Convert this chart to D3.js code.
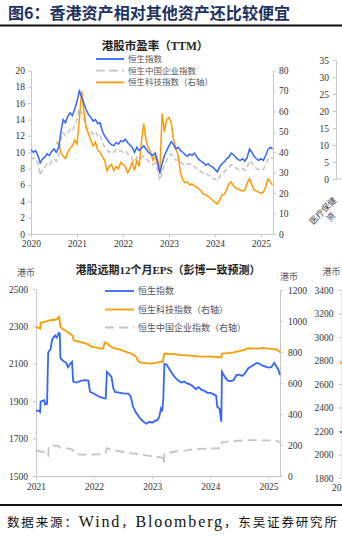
<!DOCTYPE html>
<html><head><meta charset="utf-8">
<script src="https://cdn.jsdelivr.net/npm/d3@7"></script>
<style>body{margin:0;background:#fff}svg{display:block}</style>
</head><body>
<svg id="c" width="342" height="540"></svg>
<script>
// ---------- DATA ----------
// Top chart: PE (TTM), sampled every 0.05 year from 2020.00
const peStart = 2020, peStep = 0.05;
const peHSI = [
 10.3,10.0,10.2,9.6,8.7,9.2,9.4,9.8,9.6,10.1,10.4,10.0,10.6,12.5,14.0,13.6,14.4,14.8,14.5,15.3,
 16.2,17.5,16.8,16.0,15.2,14.6,14.3,13.8,14.0,13.5,13.6,12.6,12.0,11.6,11.2,10.9,10.8,11.2,11.0,11.4,
 11.3,11.6,11.2,10.9,10.6,10.0,10.6,10.2,10.5,10.8,10.4,10.0,9.8,9.6,9.9,9.0,7.4,8.6,9.6,10.2,
 10.8,11.3,10.9,10.4,10.6,10.2,10.0,9.7,9.5,9.8,9.6,9.9,9.5,9.1,8.9,8.7,8.4,8.6,8.3,8.2,
 7.9,7.6,8.2,8.6,8.8,9.2,9.4,9.9,9.7,9.4,9.1,9.0,9.2,8.9,9.4,10.4,10.0,9.5,9.2,9.0,
 9.2,9.0,9.6,10.3,10.6,10.4];
const peHSCEI = [
 9.4,9.2,9.3,8.6,7.2,7.9,8.2,8.6,8.4,8.9,9.2,8.9,9.6,11.6,12.4,12.0,12.4,12.8,12.6,13.2,
 14.0,15.3,14.8,14.0,13.2,12.8,12.6,12.2,12.5,12.0,12.2,11.2,10.6,10.3,10.0,10.2,10.0,10.3,10.1,10.2,
 10.0,10.2,9.8,9.6,9.2,8.8,9.4,9.1,9.3,9.5,9.2,8.9,8.7,8.5,8.7,7.8,6.6,7.5,8.5,9.0,
 9.5,9.8,9.4,9.0,9.1,8.8,8.6,8.4,8.6,8.5,8.6,8.3,8.0,7.8,7.6,7.4,7.5,7.2,7.1,6.8,
 6.7,6.5,7.0,7.4,7.6,7.9,8.1,8.5,8.3,8.1,7.9,7.8,8.0,7.8,8.2,9.0,8.7,8.3,8.0,7.9,
 8.0,7.9,8.5,9.1,9.4,9.2];
const peHSTECH = [
 null,null,null,null,null,null,null,null,null,null,null,45,44,40,38,37,40,42,43,46,
 44,56,70,60,52,49,46,43,45,41,40,38,36,31,33,34,31,33,32,35,
 34,33,30,32,35,31,36,33,45,54,46,42,40,36,38,34,30,59,50,56,
 57,54,46,42,38,30,26.5,25,25.5,24,24.5,23.5,23,22,21,19.5,19,18.5,17.5,16.5,
 15.5,14.7,16.5,19,19.5,21.5,24.5,25.5,23.5,22.5,22,21.5,21,21.5,25,27,24,21.5,21,20.5,
 20,20.5,23,27,25.5,24];
const peYears = [2020,2021,2022,2023,2024,2025];
const peLeftTicks = [0,2,4,6,8,10,12,14,16,18,20];
const peRightTicks = [0,10,20,30,40,50,60,70,80];
const peLegend = ["恒生指数","恒生中国企业指数","恒生科技指数（右轴）"];

// Bottom chart: forward 12m EPS, [year, value]
const epsHSI = [[2021.00,1850],[2021.05,1848],[2021.07,1842],[2021.08,1898],[2021.14,1905],[2021.16,1882],[2021.19,1886],
 [2021.21,2160],[2021.25,2178],[2021.28,2232],[2021.33,2252],[2021.36,2240],[2021.39,2265],[2021.41,2262],
 [2021.42,2130],[2021.47,2115],[2021.52,2105],[2021.55,2082],[2021.59,2100],[2021.62,2110],[2021.64,2005],
 [2021.70,2000],[2021.78,2010],[2021.85,2013],[2021.90,2010],[2021.93,1950],[2022.00,1940],[2022.08,1925],
 [2022.16,1917],[2022.20,1915],[2022.22,2056],[2022.26,2045],[2022.30,2030],[2022.33,1970],[2022.36,1950],
 [2022.45,1945],[2022.52,1940],[2022.59,1940],[2022.63,1925],[2022.67,1870],[2022.72,1840],[2022.80,1805],
 [2022.85,1790],[2022.90,1780],[2022.95,1790],[2023.00,1785],[2023.05,1795],[2023.09,1800],[2023.12,1815],
 [2023.15,1860],[2023.17,1845],[2023.19,1906],[2023.21,2100],[2023.25,2095],[2023.30,2070],[2023.35,2045],
 [2023.40,2025],[2023.45,2010],[2023.50,2000],[2023.55,2005],[2023.60,1995],[2023.65,1990],[2023.70,1980],
 [2023.75,1965],[2023.80,1975],[2023.85,1960],[2023.90,1955],[2023.95,1945],[2024.00,1945],[2024.05,1938],
 [2024.10,1930],[2024.12,1870],[2024.16,1860],[2024.19,1790],[2024.20,2058],[2024.25,2030],[2024.30,2010],
 [2024.35,2008],[2024.40,2012],[2024.45,2040],[2024.50,2042],[2024.55,2035],[2024.60,2050],[2024.65,2075],
 [2024.70,2085],[2024.75,2095],[2024.80,2105],[2024.85,2100],[2024.90,2090],[2024.95,2085],[2025.00,2080],
 [2025.05,2082],[2025.10,2105],[2025.13,2090],[2025.17,2070],[2025.20,2040]];
const epsHSTECH = [[2021.00,962],[2021.03,958],[2021.07,950],[2021.08,990],[2021.15,995],[2021.25,1005],[2021.33,1008],
 [2021.37,1015],[2021.40,1027],[2021.42,962],[2021.47,945],[2021.52,935],[2021.58,920],[2021.63,905],[2021.65,875],
 [2021.72,868],[2021.80,860],[2021.88,852],[2021.95,835],[2022.05,828],[2022.12,820],[2022.16,825],[2022.18,862],
 [2022.22,858],[2022.27,840],[2022.32,828],[2022.38,822],[2022.45,815],[2022.52,805],[2022.60,795],[2022.67,785],
 [2022.72,770],[2022.76,740],[2022.82,730],[2022.90,728],[2022.98,725],[2023.05,730],[2023.12,735],[2023.18,738],
 [2023.21,790],[2023.30,788],[2023.40,785],[2023.50,780],[2023.60,778],[2023.70,775],[2023.80,772],[2023.90,770],
 [2024.00,770],[2024.10,768],[2024.19,765],[2024.20,790],[2024.30,793],[2024.40,798],[2024.50,805],[2024.58,812],
 [2024.62,822],[2024.70,825],[2024.80,822],[2024.90,826],[2025.00,822],[2025.10,818],[2025.15,815],[2025.20,798]];
const epsHSCEI = [[2021.00,166],[2021.05,160],[2021.10,158],[2021.17,151],[2021.19,135],[2021.21,130],[2021.22,193],
 [2021.28,197],[2021.38,195],[2021.42,182],[2021.50,180],[2021.58,175],[2021.63,170],[2021.66,150],[2021.72,140],
 [2021.80,138],[2021.90,137],[2022.00,138],[2022.10,142],[2022.17,148],[2022.20,150],[2022.22,180],[2022.28,172],
 [2022.35,166],[2022.45,158],[2022.55,152],[2022.65,146],[2022.75,142],[2022.85,136],[2022.95,130],[2023.05,126],
 [2023.15,120],[2023.19,115],[2023.20,76],[2023.21,142],[2023.30,150],[2023.40,158],[2023.50,162],[2023.60,166],
 [2023.70,172],[2023.80,175],[2023.95,177],[2024.10,178],[2024.19,180],[2024.20,218],[2024.30,222],[2024.40,224],
 [2024.50,228],[2024.60,230],[2024.70,231],[2024.80,232],[2024.90,230],[2025.00,230],[2025.10,228],[2025.15,226],
 [2025.20,216]];
const epsYears = [2021,2022,2023,2024,2025];
const epsLeftTicks = [1500,1700,1900,2100,2300,2500];
const epsRightTicks = [0,200,400,600,800,1000,1200];
const epsLegend = ["恒生指数","恒生科技指数（右轴）","恒生中国企业指数（右轴）"];

// Partially visible neighbour charts (cut off at right edge)
const sideTopTicks = [0,5,10,15,20,25,30,35];
const sideTopCatLines = ["医疗保健","资"];
const sideBotTicks = [1800,2000,2200,2400,2600,2800,3000,3200,3400];
const sideBotOrange = [2780,2778];
const sideBotBlue = [2190,2192];

const titleText = "图6：香港资产相对其他资产还比较便宜";
const sourceParts = [["数据来源：", "c"], ["Wind", "l"], ["，", "c"], ["Bloomberg", "l"], ["，东吴证券研究所", "c"]];

// ---------- DRAW ----------
const BLUE = "#3366ff", ORANGE = "#ff9a00", GRAY = "#c4c4c4", AX = "#c8c8c8";
const NUM = "'Liberation Serif','Times New Roman',serif";
const CJK = "'Noto Sans CJK SC','Noto Sans',sans-serif";
const svg = d3.select("#c");
const fmt = d3.format("d");

svg.append("text").attr("x", 8).attr("y", 19).text(titleText)
  .attr("font-family", CJK).attr("font-weight", "bold").attr("font-size", 16)
  .attr("fill", "#1c3160").attr("textLength", 282).attr("lengthAdjust", "spacingAndGlyphs");
svg.append("rect").attr("x", 0).attr("y", 24.5).attr("width", 342).attr("height", 2).attr("fill", "#111");
svg.append("rect").attr("x", 0).attr("y", 504).attr("width", 342).attr("height", 2).attr("fill", "#111");
const src = svg.append("text").attr("x", 7).attr("y", 527).attr("fill", "#111")
  .attr("textLength", 330).attr("lengthAdjust", "spacing");
sourceParts.forEach(([t, k]) => {
  src.append("tspan").text(t)
    .attr("font-family", k === "l" ? NUM : CJK).attr("font-size", k === "l" ? 16 : 12.5);
});

function styleAxis(g) {
  g.select(".domain").attr("stroke", AX);
  g.selectAll(".tick line").attr("stroke", AX);
  g.selectAll(".tick text").attr("font-family", NUM).attr("font-size", 9.5).attr("fill", "#333");
}

// ---- top chart ----
{
  const x = d3.scaleLinear().domain([2020, 2025.26]).range([31, 273]);
  const yL = d3.scaleLinear().domain([0, 20]).range([234, 70.5]);
  const yR = d3.scaleLinear().domain([0, 80]).range([234, 70.5]);
  const g = svg.append("g");
  g.append("g").attr("transform", "translate(0,234)")
    .call(d3.axisBottom(x).tickValues(peYears).tickFormat(fmt).tickSize(3).tickSizeOuter(0).tickPadding(3))
    .call(styleAxis);
  g.append("g").attr("transform", "translate(31,0)")
    .call(d3.axisLeft(yL).tickValues(peLeftTicks).tickFormat(fmt).tickSize(3).tickSizeOuter(0).tickPadding(3)).call(styleAxis);
  g.append("g").attr("transform", "translate(273,0)")
    .call(d3.axisRight(yR).tickValues(peRightTicks).tickFormat(fmt).tickSize(3).tickSizeOuter(0).tickPadding(3)).call(styleAxis);

  const idx = d => peStart + d[0] * peStep;
  const mk = (arr) => arr.map((v, i) => [i, v]);
  const lineL = d3.line().defined(d => d[1] != null).x(d => x(idx(d))).y(d => yL(d[1]));
  const lineR = d3.line().defined(d => d[1] != null).x(d => x(idx(d))).y(d => yR(d[1]));
  g.append("path").attr("d", lineL(mk(peHSCEI))).attr("fill", "none").attr("stroke", GRAY)
    .attr("stroke-width", 1.5).attr("stroke-dasharray", "5,3");
  g.append("path").attr("d", lineR(mk(peHSTECH))).attr("fill", "none").attr("stroke", ORANGE).attr("stroke-width", 1.5);
  g.append("path").attr("d", lineL(mk(peHSI))).attr("fill", "none").attr("stroke", BLUE).attr("stroke-width", 1.5);

  g.append("text").attr("x", 155).attr("y", 50).attr("text-anchor", "middle").text("港股市盈率（TTM）")
    .attr("font-family", "'Liberation Serif'," + CJK).attr("font-weight", "bold").attr("font-size", 11.5).attr("fill", "#222");
  const cols = [BLUE, GRAY, ORANGE];
  peLegend.forEach((t, i) => {
    const yy = 59 + i * 11.7;
    g.append("line").attr("x1", 96).attr("x2", 124).attr("y1", yy).attr("y2", yy)
      .attr("stroke", cols[i]).attr("stroke-width", 1.8).attr("stroke-dasharray", i === 1 ? "9,4" : null);
    g.append("text").attr("x", 128).attr("y", yy + 3).text(t)
      .attr("font-family", CJK).attr("font-size", 8.5).attr("fill", "#555");
  });
}

// ---- bottom chart ----
{
  const x = d3.scaleLinear().domain([2021, 2025.2]).range([36, 280]);
  const yL = d3.scaleLinear().domain([1500, 2500]).range([476, 289]);
  const yR = d3.scaleLinear().domain([0, 1200]).range([476, 290]);
  const g = svg.append("g");
  g.append("g").attr("transform", "translate(0,476)")
    .call(d3.axisBottom(x).tickValues(epsYears).tickFormat(fmt).tickSize(3).tickSizeOuter(0).tickPadding(4))
    .call(styleAxis);
  g.append("g").attr("transform", "translate(36,0)")
    .call(d3.axisLeft(yL).tickValues(epsLeftTicks).tickFormat(fmt).tickSize(3).tickSizeOuter(0).tickPadding(5)).call(styleAxis);
  g.append("g").attr("transform", "translate(280,0)")
    .call(d3.axisRight(yR).tickValues(epsRightTicks).tickFormat(fmt).tickSize(3).tickSizeOuter(0).tickPadding(5)).call(styleAxis);

  const lineL = d3.line().x(d => x(d[0])).y(d => yL(d[1]));
  const lineR = d3.line().x(d => x(d[0])).y(d => yR(d[1]));
  g.append("path").attr("d", lineR(epsHSCEI)).attr("fill", "none").attr("stroke", GRAY)
    .attr("stroke-width", 1.8).attr("stroke-dasharray", "9,5");
  g.append("path").attr("d", lineR(epsHSTECH)).attr("fill", "none").attr("stroke", ORANGE).attr("stroke-width", 1.8);
  g.append("path").attr("d", lineL(epsHSI)).attr("fill", "none").attr("stroke", BLUE).attr("stroke-width", 1.8);

  g.append("text").attr("x", 168).attr("y", 274).attr("text-anchor", "middle").text("港股远期12个月EPS（彭博一致预测）")
    .attr("font-family", "'Liberation Serif'," + CJK).attr("font-weight", "bold").attr("font-size", 11).attr("fill", "#222");
  g.append("text").attr("x", 26).attr("y", 276).attr("text-anchor", "middle").text("港币")
    .attr("font-family", CJK).attr("font-size", 9).attr("fill", "#555");
  g.append("text").attr("x", 289).attr("y", 280).attr("text-anchor", "middle").text("港币")
    .attr("font-family", CJK).attr("font-size", 9).attr("fill", "#555");
  const cols = [BLUE, ORANGE, GRAY];
  epsLegend.forEach((t, i) => {
    const yy = [291, 309.5, 327.5][i];
    g.append("line").attr("x1", 105).attr("x2", 134).attr("y1", yy).attr("y2", yy)
      .attr("stroke", cols[i]).attr("stroke-width", 1.8).attr("stroke-dasharray", i === 2 ? "9,5" : null);
    g.append("text").attr("x", 138).attr("y", yy + 3.2).text(t)
      .attr("font-family", CJK).attr("font-size", 9).attr("fill", "#555");
  });
}

// ---- partial neighbour charts ----
{
  const y = d3.scaleLinear().domain([0, 35]).range([179, 60]);
  const g = svg.append("g");
  g.append("g").attr("transform", "translate(336,0)")
    .call(d3.axisLeft(y).tickValues(sideTopTicks).tickFormat(fmt).tickSize(3).tickSizeOuter(0).tickPadding(4)).call(styleAxis);
  g.append("line").attr("x1", 336).attr("x2", 342).attr("y1", 179).attr("y2", 179).attr("stroke", AX);
  const origins = [[313, 225], [330, 222]];
  sideTopCatLines.forEach((t, j) => {
    g.append("text").attr("transform", `translate(${origins[j][0]},${origins[j][1]}) rotate(-45)`)
      .text(t).attr("font-family", CJK).attr("font-size", 8.5).attr("fill", "#444");
  });
}
{
  const y = d3.scaleLinear().domain([1800, 3400]).range([478, 290]);
  const g = svg.append("g");
  g.append("g").attr("transform", "translate(341.5,0)")
    .call(d3.axisLeft(y).tickValues(sideBotTicks).tickFormat(fmt).tickSize(3).tickSizeOuter(0).tickPadding(5)).call(styleAxis);
  g.append("text").attr("x", 331.5).attr("y", 275).attr("text-anchor", "middle").text("港币")
    .attr("font-family", CJK).attr("font-size", 9).attr("fill", "#555");
  g.append("text").attr("x", 341.5).attr("y", 491).attr("text-anchor", "middle").text("2021")
    .attr("font-family", NUM).attr("font-size", 9.5).attr("fill", "#333");
  const xs = [340, 343];
  const ln = d3.line().x((d, i) => xs[i]).y(d => y(d));
  g.append("path").attr("d", ln(sideBotOrange)).attr("stroke", ORANGE).attr("stroke-width", 1.8).attr("fill", "none");
  g.append("path").attr("d", ln(sideBotBlue)).attr("stroke", BLUE).attr("stroke-width", 1.8).attr("fill", "none");
}
</script>
</body></html>
